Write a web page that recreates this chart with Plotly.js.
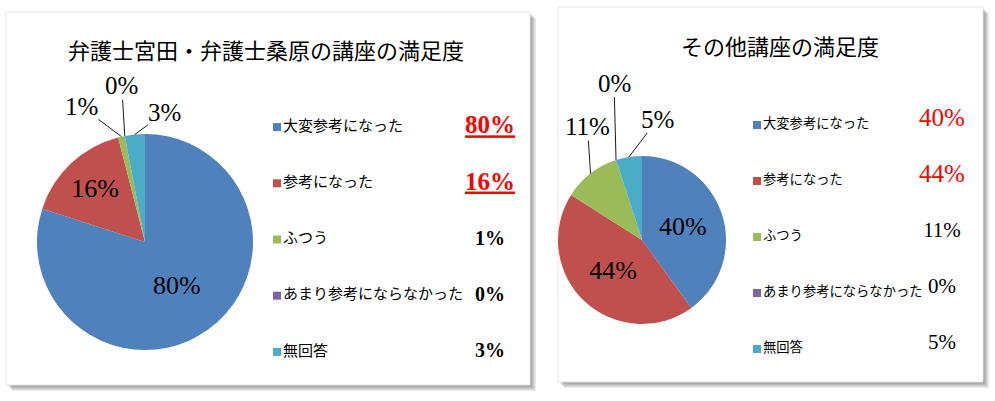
<!DOCTYPE html>
<html>
<head>
<meta charset="utf-8">
<script src="https://cdn.plot.ly/plotly-3.0.1.min.js"></script>
<style>html,body{margin:0;padding:0;background:#fff;}#chart{width:995px;height:401px;}</style>
</head>
<body>
<div id="chart"></div>
<script>
// ---- data ----
const categories = ['大変参考になった', '参考になった', 'ふつう', 'あまり参考にならなかった', '無回答'];
const titleLeft = '弁護士宮田・弁護士桑原の講座の満足度';
const titleRight = 'その他講座の満足度';
const valuesLeft = [80, 16, 1, 0, 3];
const valuesRight = [40, 44, 11, 0, 5];
const pctLabelsLeft = ['80%', '16%', '1%', '0%', '3%'];
const pctLabelsRight = ['40%', '44%', '11%', '0%', '5%'];

// ---- styles / layout ----
const colors = ['#4F81BD', '#C0504D', '#9BBB59', '#8064A2', '#4BACC6'];
const W = 995, H = 401;
const X = p => p / W;
const Y = p => 1 - p / H;
const serif = 'Liberation Serif, Times New Roman, serif';
const jp = 'Noto Sans CJK JP, sans-serif';
const insideMask = ['inside', 'inside', 'none', 'none', 'none'];
// label offsets (px) for the small slices' callouts, relative to the slice edge
const calloutLeft = {2: [-40, -30], 3: [-3, -50], 4: [30, -22]};
const calloutRight = {2: [-3, -47], 3: [-2, -77], 4: [29, -38]};
const domLeft = {x: [37, 253], y: [134, 350]};
const domRight = {x: [558, 726], y: [156, 324]};

function panelShapes(x0, y0, x1, y1) {
  const s = [];
  for (let i = 1; i <= 6; i++) {
    s.push({type: 'rect', xref: 'paper', yref: 'paper', layer: 'below',
      x0: X(x0 + i), x1: X(x1 + i), y0: Y(y1 + i), y1: Y(y0 + i),
      fillcolor: 'rgba(0,0,0,0.075)', line: {width: 0}});
  }
  s.push({type: 'rect', xref: 'paper', yref: 'paper', layer: 'below',
    x0: X(x0), x1: X(x1), y0: Y(y1), y1: Y(y0),
    fillcolor: '#ffffff', line: {color: '#e6e6e6', width: 1}});
  return s;
}

// callout annotations: tip on the rim at each slice's mid-angle (from the values)
function callouts(values, labels, dom, offsets) {
  const total = values.reduce((a, b) => a + b, 0);
  const cx = (dom.x[0] + dom.x[1]) / 2, cy = (dom.y[0] + dom.y[1]) / 2;
  const r = Math.min(dom.x[1] - dom.x[0], dom.y[1] - dom.y[0]) / 2;
  const out = [];
  let cum = 0;
  values.forEach((v, i) => {
    const mid = (cum + v / 2) / total * 2 * Math.PI;
    cum += v;
    if (!offsets[i]) return;
    const tx = cx + r * Math.sin(mid), ty = cy - r * Math.cos(mid);
    out.push({text: labels[i], xref: 'paper', yref: 'paper', x: X(tx), y: Y(ty),
      ax: offsets[i][0], ay: offsets[i][1], showarrow: true, arrowhead: 0,
      arrowwidth: 0.9, arrowcolor: '#000', standoff: 0, startstandoff: 0,
      borderpad: 0, font: {family: serif, size: 25, color: '#000'}});
  });
  return out;
}

const pieCommon = {
  type: 'pie', sort: false, direction: 'clockwise', rotation: 0,
  labels: categories,
  marker: {colors: colors, line: {width: 0}},
  texttemplate: '%{value}%',
  textposition: insideMask,
  insidetextorientation: 'horizontal',
  textfont: {family: serif, size: 26, color: '#000'},
  insidetextfont: {family: serif, size: 26, color: '#000'},
  showlegend: false, hoverinfo: 'label+percent'
};

const pieLeft = Object.assign({}, pieCommon, {
  values: valuesLeft,
  domain: {x: [X(domLeft.x[0]), X(domLeft.x[1])], y: [Y(domLeft.y[1]), Y(domLeft.y[0])]}
});
const pieRight = Object.assign({}, pieCommon, {
  values: valuesRight,
  domain: {x: [X(domRight.x[0]), X(domRight.x[1])], y: [Y(domRight.y[1]), Y(domRight.y[0])]}
});

const legLeft = {
  type: 'scatter', mode: 'markers+text', xaxis: 'x', yaxis: 'y',
  x: categories.map(() => 0), y: categories, text: categories,
  textposition: 'middle right', cliponaxis: false,
  textfont: {family: jp, size: 15, color: '#000'},
  marker: {symbol: 'square', size: 8, color: colors},
  showlegend: false, hoverinfo: 'skip'
};
const pctLeft = {
  type: 'scatter', mode: 'text', xaxis: 'x', yaxis: 'y',
  x: categories.map(() => 1), y: categories,
  text: pctLabelsLeft.map((t, i) => i < 2 ? '<b><u>' + t + '</u></b>' : '<b>' + t + '</b>'),
  textposition: 'middle center', cliponaxis: false,
  textfont: {family: serif, size: [25, 25, 20, 20, 20],
             color: ['#FF0000', '#FF0000', '#000', '#000', '#000']},
  showlegend: false, hoverinfo: 'skip'
};
const legRight = {
  type: 'scatter', mode: 'markers+text', xaxis: 'x2', yaxis: 'y2',
  x: categories.map(() => 0), y: categories, text: categories,
  textposition: 'middle right', cliponaxis: false,
  textfont: {family: jp, size: 13.3, color: '#000'},
  marker: {symbol: 'square', size: 8, color: colors},
  showlegend: false, hoverinfo: 'skip'
};
const pctRight = {
  type: 'scatter', mode: 'text', xaxis: 'x2', yaxis: 'y3',
  x: categories.map(() => 1), y: categories,
  text: pctLabelsRight,
  textposition: 'middle center', cliponaxis: false,
  textfont: {family: serif, size: [25, 25, 21, 21, 21],
             color: ['#FF0000', '#FF0000', '#000', '#000', '#000']},
  showlegend: false, hoverinfo: 'skip'
};

const hiddenAxis = {visible: false, fixedrange: true};
const catAxis = {type: 'category', categoryorder: 'array', categoryarray: categories, range: [4.5, -0.5]};
const layout = {
  width: W, height: H,
  margin: {l: 0, r: 0, t: 0, b: 0},
  paper_bgcolor: '#ffffff', plot_bgcolor: 'rgba(0,0,0,0)',
  showlegend: false,
  xaxis: Object.assign({}, hiddenAxis, {domain: [X(277), X(490)], range: [0, 1]}),
  yaxis: Object.assign({}, hiddenAxis, catAxis, {domain: [Y(380), Y(99)]}),
  xaxis2: Object.assign({}, hiddenAxis, {domain: [X(757), X(942)], range: [0, 1]}),
  yaxis2: Object.assign({}, hiddenAxis, catAxis, {domain: [Y(377), Y(97)]}),
  yaxis3: Object.assign({}, hiddenAxis, catAxis, {domain: [Y(372), Y(92)], anchor: 'x2'}),
  shapes: panelShapes(6, 12, 530, 385).concat(panelShapes(558, 7, 983, 382)),
  annotations: [
    {text: titleLeft, xref: 'paper', yref: 'paper', x: X(266), y: Y(49),
     xanchor: 'center', yanchor: 'middle', showarrow: false,
     font: {family: jp, size: 22, color: '#000'}},
    {text: titleRight, xref: 'paper', yref: 'paper', x: X(780), y: Y(45),
     xanchor: 'center', yanchor: 'middle', showarrow: false,
     font: {family: jp, size: 22, color: '#000'}}
  ].concat(callouts(valuesLeft, pctLabelsLeft, domLeft, calloutLeft))
   .concat(callouts(valuesRight, pctLabelsRight, domRight, calloutRight))
};

Plotly.newPlot('chart', [pieLeft, pieRight, legLeft, pctLeft, legRight, pctRight], layout,
  {staticPlot: true, displayModeBar: false});
</script>
</body>
</html>
